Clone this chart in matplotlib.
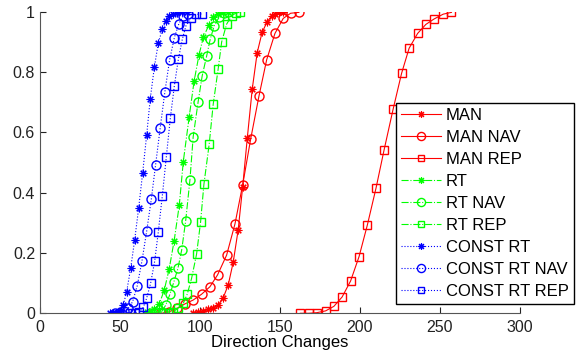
"""CDF of direction changes for the MAN / RT / CONST RT runs
"""
import numpy as np
import matplotlib
matplotlib.use("Agg")
import matplotlib.pyplot as plt

plt.rcParams['font.family'] = ['Liberation Sans', 'DejaVu Sans']

# MAN (red, solid)
man_x = [95.8, 98.75, 101.9, 105.2, 108.1, 111.25, 114.6, 117.7, 120.8, 123.9,
         126.7, 129.6, 132.7, 135.8, 138.9, 142.1, 144.8, 146.9, 149.4, 151.7]
man_y = [0.0, 0.003, 0.006, 0.013, 0.019, 0.026, 0.052, 0.094, 0.169, 0.276,
         0.418, 0.58, 0.743, 0.864, 0.932, 0.967, 0.986, 0.992, 0.998, 1.0]

man_nav_x = [71.25, 76.0, 80.8, 85.8, 90.6, 95.8, 101.0, 106.25, 111.0, 116.7,
             121.9, 126.7, 131.7, 136.9, 141.7, 146.9, 152.1, 156.7, 161.9]
man_nav_y = [0.0, 0.0, 0.005, 0.017, 0.031, 0.044, 0.063, 0.088, 0.127, 0.193,
             0.296, 0.425, 0.577, 0.72, 0.84, 0.928, 0.978, 0.995, 0.998]

man_rep_x = [162.8, 168.0, 173.1, 178.6, 183.75, 188.9, 194.2, 199.5, 204.7, 210.1,
             215.2, 220.8, 226.1, 230.8, 236.1, 241.25, 246.4, 252.1, 257.3]
man_rep_y = [0.0, 0.0, 0.002, 0.008, 0.023, 0.054, 0.107, 0.188, 0.293, 0.415,
             0.543, 0.677, 0.796, 0.879, 0.928, 0.958, 0.976, 0.992, 0.998]

# RT (green, dash-dot)
rt_x = [65.5, 68.4, 71.25, 74.6, 77.7, 80.75, 83.9, 87.1, 89.6, 93.3,
        96.4, 99.4, 102.1, 105.6, 108.3, 111.4, 114.4, 117.5]
rt_y = [0.0, 0.005, 0.013, 0.031, 0.077, 0.146, 0.241, 0.359, 0.503, 0.652,
        0.771, 0.856, 0.915, 0.956, 0.981, 0.992, 0.999, 1.0]

rt_nav_x = [69.0, 72.5, 76.1, 78.6, 81.25, 83.75, 86.25, 88.6, 91.1, 93.75,
            95.8, 98.9, 101.4, 104.2, 106.4, 108.9, 112.1, 115.0, 117.7]
rt_nav_y = [0.0, 0.003, 0.005, 0.027, 0.063, 0.105, 0.149, 0.21, 0.307, 0.442,
            0.586, 0.702, 0.787, 0.853, 0.908, 0.953, 0.983, 0.995, 1.0]

rt_rep_x = [77.0, 80.0, 83.3, 86.4, 89.6, 92.1, 94.8, 97.9, 100.4, 102.5,
            105.8, 108.3, 111.4, 113.6, 116.7, 119.8, 122.5, 125.0]
rt_rep_y = [0.0, 0.0, 0.005, 0.017, 0.033, 0.064, 0.116, 0.196, 0.302, 0.428,
            0.561, 0.693, 0.81, 0.9, 0.959, 0.986, 0.996, 0.998]

# CONST RT (blue, dotted)
crt_x = [43.75, 45.8, 47.5, 49.0, 50.4, 52.1, 54.2, 56.7, 59.2, 61.7, 64.2,
         66.7, 68.96, 71.5, 73.96, 76.5, 78.75, 80.8, 83.3, 85.8, 88.5, 91.7]
crt_y = [0.0, 0.0, 0.002, 0.004, 0.01, 0.028, 0.072, 0.149, 0.243, 0.349, 0.466,
         0.591, 0.712, 0.816, 0.896, 0.942, 0.970, 0.986, 0.993, 0.997, 0.999, 1.0]

crt_nav_x = [46.9, 49.6, 52.5, 55.2, 57.9, 60.8, 63.75, 66.7, 69.6, 72.3,
             75.2, 78.1, 81.0, 84.0, 86.9, 89.6, 92.5]
crt_nav_y = [0.0, 0.0, 0.006, 0.017, 0.038, 0.091, 0.173, 0.272, 0.378, 0.493,
             0.616, 0.735, 0.839, 0.914, 0.961, 0.986, 0.994]

crt_rep_x = [56.25, 59.4, 62.1, 64.6, 66.7, 69.2, 71.7, 73.96, 76.5, 79.0,
             81.5, 84.0, 86.5, 89.0, 91.25, 94.2, 97.5, 101.25]
crt_rep_y = [0.0, 0.0, 0.004, 0.02, 0.05, 0.10, 0.172, 0.269, 0.39, 0.519,
             0.647, 0.754, 0.842, 0.909, 0.953, 0.98, 0.991, 0.993]

fig = plt.figure(figsize=(5.88, 3.56), dpi=100)
ax = fig.add_axes([0.068, 0.12, 0.816, 0.847])

ast = (8, 2, 0)  # matlab style asterisk
ms = 5.5
ax.plot(man_x, man_y, color='r', ls='-', lw=0.8, marker=ast, ms=ms, mew=0.8, label='MAN')
ax.plot(man_nav_x, man_nav_y, color='r', ls='-', lw=0.8, marker='o', ms=6.5,
        mfc='none', label='MAN NAV')
ax.plot(man_rep_x, man_rep_y, color='r', ls='-', lw=0.8, marker='s', ms=5.5,
        mfc='none', label='MAN REP')
ax.plot(rt_x, rt_y, color='#00ff00', ls='-.', lw=0.8, marker=ast, ms=ms, mew=0.8, label='RT')
ax.plot(rt_nav_x, rt_nav_y, color='#00ff00', ls='-.', lw=0.8, marker='o', ms=6.5,
        mfc='none', label='RT NAV')
ax.plot(rt_rep_x, rt_rep_y, color='#00ff00', ls='-.', lw=0.8, marker='s', ms=5.5,
        mfc='none', label='RT REP')
ax.plot(crt_x, crt_y, color='b', ls=':', lw=0.8, marker=ast, ms=ms, mew=0.8, label='CONST RT')
ax.plot(crt_nav_x, crt_nav_y, color='b', ls=':', lw=0.8, marker='o', ms=6.5,
        mfc='none', label='CONST RT NAV')
ax.plot(crt_rep_x, crt_rep_y, color='b', ls=':', lw=0.8, marker='s', ms=5.5,
        mfc='none', label='CONST RT REP')

ax.set_xlim(0, 300)
ax.set_ylim(0, 1)
ax.set_xticks(np.arange(0, 301, 50))
ax.set_yticks([0, 0.2, 0.4, 0.6, 0.8, 1])
ax.set_yticklabels(['0', '0.2', '0.4', '0.6', '0.8', '1'])
ax.spines['top'].set_visible(False)
ax.spines['right'].set_visible(False)
for s in ['left', 'bottom']:
    ax.spines[s].set_color('#555555')
ax.tick_params(direction='in', length=4, labelsize=11.5, colors='#222222')
ax.tick_params(axis='x', pad=5)
ax.set_xlabel('Direction Changes', fontsize=12, labelpad=0)

leg = ax.legend(loc='upper left', bbox_to_anchor=(0.742, 0.697), borderaxespad=0,
                fontsize=12, fancybox=False, framealpha=1, edgecolor='black',
                handlelength=2.4, handletextpad=0.3, labelspacing=0.42,
                borderpad=0.3, markerscale=0.9)
leg.get_frame().set_linewidth(1.0)

plt.savefig('out.png')
